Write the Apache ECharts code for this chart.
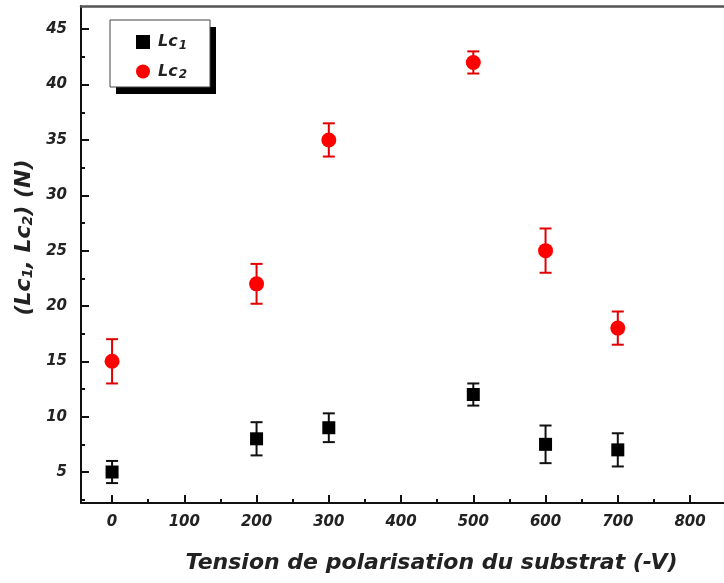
<!DOCTYPE html>
<html>
<head>
<meta charset="utf-8">
<script src="https://cdn.jsdelivr.net/npm/echarts@6/dist/echarts.min.js"></script>
<style>html,body{margin:0;padding:0;background:#fff;}#c{width:724px;height:583px;}</style>
</head>
<body>
<div id="c"></div>
<script>
var xValues = [0, 200, 300, 500, 600, 700];
var lc1 = [5, 8, 9, 12, 7.5, 7];
var lc1Err = [1, 1.5, 1.3, 1, 1.7, 1.5];
var lc2 = [15, 22, 35, 42, 25, 18];
var lc2Err = [2, 1.8, 1.5, 1, 2, 1.5];
var xMajorTicks = [0, 100, 200, 300, 400, 500, 600, 700, 800];
var xMinorTicks = [50, 150, 250, 350, 450, 550, 650, 750];
var yMajorTicks = [5, 10, 15, 20, 25, 30, 35, 40, 45];
var yMinorTicks = [2.5, 7.5, 12.5, 17.5, 22.5, 27.5, 32.5, 37.5, 42.5];

var FF = 'DejaVu Sans';
var labelFont = {fontFamily: FF, fontWeight: 'bold', fontStyle: 'italic', fontSize: 15, color: '#222'};

function pts(vals) { return xValues.map(function (x, i) { return [x, vals[i]]; }); }
function errs(vals, e) { return xValues.map(function (x, i) { return [x, vals[i] - e[i], vals[i] + e[i]]; }); }

function errRender(color) {
  return function (params, api) {
    var x = api.value(0), lo = api.value(1), hi = api.value(2);
    var pLo = api.coord([x, lo]), pHi = api.coord([x, hi]);
    var hw = 6;
    var st = {stroke: color, lineWidth: 2};
    return {type: 'group', children: [
      {type: 'line', shape: {x1: pLo[0], y1: pLo[1], x2: pHi[0], y2: pHi[1]}, style: st},
      {type: 'line', shape: {x1: pLo[0] - hw, y1: pLo[1], x2: pLo[0] + hw, y2: pLo[1]}, style: st},
      {type: 'line', shape: {x1: pHi[0] - hw, y1: pHi[1], x2: pHi[0] + hw, y2: pHi[1]}, style: st}
    ]};
  };
}

var XMIN = -43, XMAX = 847, YMIN = 2.2, YMAX = 47.1;
var chart = echarts.init(document.getElementById('c'), null, {renderer: 'canvas'});
var nameFont = {fontFamily: FF, fontWeight: 'bold', fontStyle: 'italic', fontSize: 22, color: '#222'};
chart.setOption({
  animation: false,
  backgroundColor: '#fff',
  grid: {left: 81, right: -2, top: 6, bottom: 80},
  graphic: [
    {type: 'rect', z: 10, shape: {x: 116, y: 27, width: 100, height: 67}, style: {fill: '#000'}},
    {type: 'rect', z: 11, shape: {x: 110, y: 20, width: 100, height: 67}, style: {fill: '#fff', stroke: '#444', lineWidth: 1}}
  ],
  legend: {
    left: 110, top: 20, orient: 'vertical', z: 20,
    padding: [14, 10, 10, 26], itemGap: 12, itemWidth: 14, itemHeight: 14, itemStyle: {},
    data: ['Lc1', 'Lc2'],
    formatter: function (n) { return '{b|Lc}{s|' + n.slice(2) + '}'; },
    textStyle: {
      rich: {
        b: {fontFamily: FF, fontWeight: 'bold', fontStyle: 'italic', fontSize: 16, color: '#222', padding: [0, 0, 0, 3]},
        s: {fontFamily: FF, fontWeight: 'bold', fontStyle: 'italic', fontSize: 12, color: '#222', padding: [7, 0, 0, 1]}
      }
    }
  },
  xAxis: [{
    type: 'value', min: XMIN, max: XMAX, position: 'bottom',
    name: 'Tension de polarisation du substrat (-V)', nameLocation: 'middle', nameGap: 49,
    nameTextStyle: Object.assign({padding: [0, 0, 0, 58]}, nameFont),
    axisLine: {onZero: false, lineStyle: {color: '#111', width: 2}},
    axisTick: {inside: true, length: 8, lineStyle: {color: '#111', width: 2}, customValues: xMajorTicks},
    axisLabel: Object.assign({margin: 12, customValues: xMajorTicks}, labelFont),
    splitLine: {show: false}
  }, {
    type: 'value', min: XMIN, max: XMAX, position: 'bottom',
    axisLine: {show: false, onZero: false},
    axisTick: {inside: true, length: 4, lineStyle: {color: '#111', width: 2}, customValues: xMinorTicks},
    axisLabel: {show: false}, splitLine: {show: false}
  }, {
    type: 'value', min: XMIN, max: XMAX, position: 'top',
    axisLine: {onZero: false, lineStyle: {color: '#555', width: 2.5}},
    axisTick: {show: false}, axisLabel: {show: false}, splitLine: {show: false}
  }],
  yAxis: [{
    type: 'value', min: YMIN, max: YMAX, position: 'left',
    name: '{b|(Lc}{s|1}{b|, Lc}{s|2}{b|) (N)}', nameLocation: 'middle', nameGap: 42, nameRotate: 90,
    nameTextStyle: {
      padding: [0, 0, 0, 34],
      rich: {
        b: nameFont,
        s: {fontFamily: FF, fontWeight: 'bold', fontStyle: 'italic', fontSize: 14, color: '#222', padding: [8, 0, 0, 0]}
      }
    },
    axisLine: {onZero: false, lineStyle: {color: '#111', width: 2}},
    axisTick: {inside: true, length: 8, lineStyle: {color: '#111', width: 2}, customValues: yMajorTicks},
    axisLabel: Object.assign({margin: 14, customValues: yMajorTicks}, labelFont),
    splitLine: {show: false}
  }, {
    type: 'value', min: YMIN, max: YMAX, position: 'left',
    axisLine: {show: false, onZero: false},
    axisTick: {inside: true, length: 4, lineStyle: {color: '#111', width: 2}, customValues: yMinorTicks},
    axisLabel: {show: false}, splitLine: {show: false}
  }],
  series: [
    {type: 'custom', name: 'err1', renderItem: errRender('#111'), data: errs(lc1, lc1Err), z: 3, encode: {x: 0, y: [1, 2]}, silent: true},
    {type: 'custom', name: 'err2', renderItem: errRender('#e00000'), data: errs(lc2, lc2Err), z: 3, encode: {x: 0, y: [1, 2]}, silent: true},
    {type: 'scatter', name: 'Lc1', symbol: 'rect', symbolSize: 13, itemStyle: {color: '#000', opacity: 1}, data: pts(lc1), z: 4},
    {type: 'scatter', name: 'Lc2', symbol: 'circle', symbolSize: 15, itemStyle: {color: '#ff0000', opacity: 1}, data: pts(lc2), z: 4}
  ]
});
</script>
</body>
</html>
